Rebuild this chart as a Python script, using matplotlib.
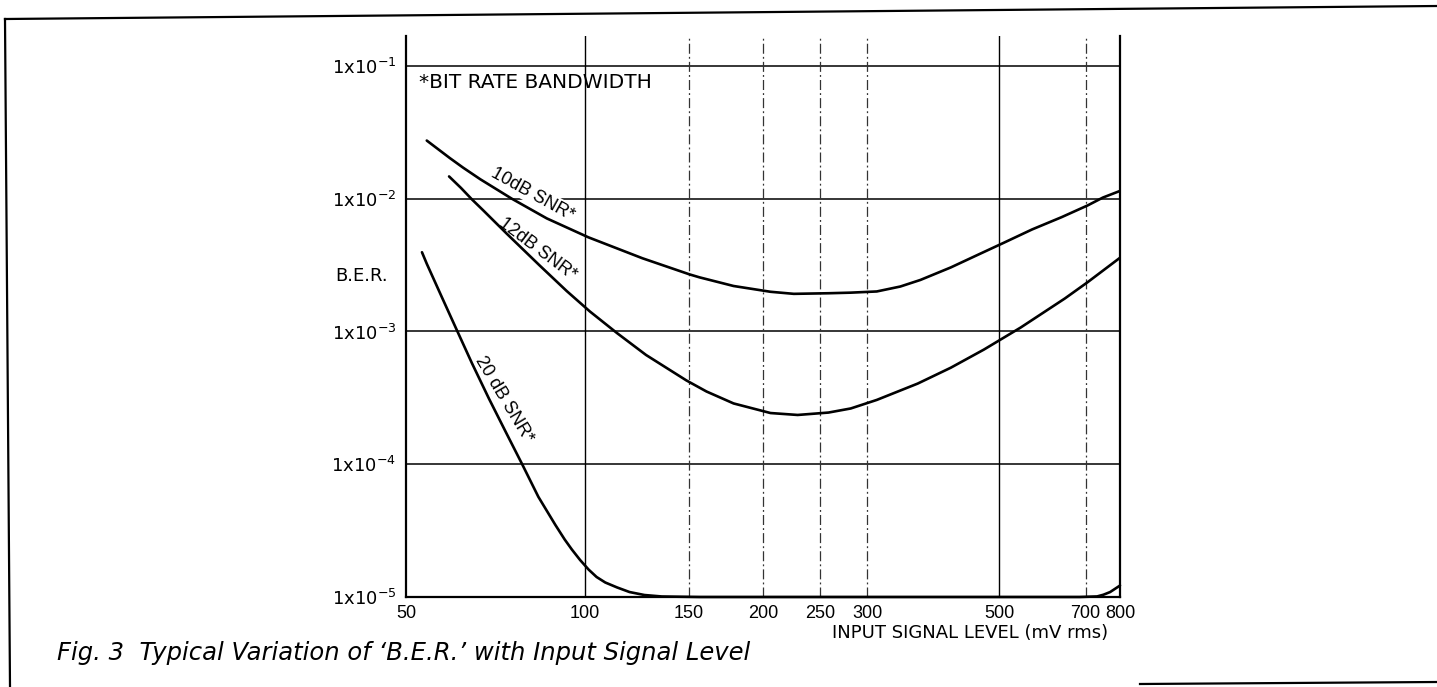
import matplotlib
matplotlib.use("Agg")
import matplotlib.pyplot as plt
from matplotlib.lines import Line2D

# ---------------- data ----------------
x_ticks = [50, 100, 150, 200, 250, 300, 500, 700, 800]
x_ticklabels = ["50", "100", "150", "200", "250", "300", "500", "700", "800"]
y_ticks = [1e-1, 1e-2, 1e-3, 1e-4, 1e-5]
y_ticklabels = [r"$\mathregular{1x10^{-1}}$", r"$\mathregular{1x10^{-2}}$",
                r"$\mathregular{1x10^{-3}}$", r"$\mathregular{1x10^{-4}}$",
                r"$\mathregular{1x10^{-5}}$"]

snr10_x = [54.2, 59.3, 62.4, 66.7, 75.4, 86.4, 101.5, 125.2, 150.4, 156.3, 178.4, 205.9, 225.4,
           257.9, 281.2, 311.1, 340.9, 368.6, 414.6, 464, 509.7, 568.7, 637.5, 705.5, 748.7, 800]
snr10_y = [0.0274, 0.0202, 0.01714, 0.01402, 0.0100, 0.0071, 0.00512, 0.00356, 0.00269,
           0.002556, 0.0022, 0.00199, 0.00192, 0.00194, 0.00196, 0.002001, 0.00218, 0.002444,
           0.003034, 0.003836, 0.004661, 0.005867, 0.007254, 0.008896, 0.0102, 0.01144]

snr12_x = [59.1, 61.9, 64.6, 67.5, 74.0, 84.0, 93.3, 102.1, 113.4, 127.0, 148.5, 160.6, 178.4,
           205.9, 228.8, 257.9, 281.2, 311.1, 364.7, 414.6, 471.5, 543.9, 645.6, 705.5, 800]
snr12_y = [0.01471, 0.01205, 0.00987, 0.00816, 0.00543, 0.003143, 0.002018, 0.001415,
           0.000974, 0.000665, 0.000428, 0.000353, 0.000287, 0.000243, 0.000235, 0.000245,
           0.000263, 0.000305, 0.000405, 0.000533, 0.00073, 0.00107, 0.00177, 0.00235, 0.00359]

snr20_x = [53.2, 54.2, 57.5, 61.0, 64.6, 69.0, 73.75, 78.5, 83.6, 89.3, 92.6, 95.2, 98.3,
           101.6, 104.8, 108.4, 113.5, 119.1, 126.2, 135.0, 156.4, 684, 732, 750, 770, 800]
snr20_y = [0.00395, 0.003236, 0.001803, 0.001009, 0.000576, 0.000312, 0.000173, 0.0001,
           5.68e-5, 3.49e-5, 2.71e-5, 2.28e-5, 1.90e-5, 1.61e-5, 1.415e-5, 1.286e-5, 1.18e-5,
           1.09e-5, 1.035e-5, 1.009e-5, 1.0e-5, 1.0e-5, 1.01e-5, 1.04e-5, 1.09e-5, 1.22e-5]

solid_vgrid = [100, 500]
dashed_vgrid = [150, 200, 250, 300, 700]
hgrid = [1e-1, 1e-2, 1e-3, 1e-4]

# ---------------- style ----------------
plt.rcParams['font.family'] = ['DejaVu Sans']
plt.rcParams['mathtext.fontset'] = 'custom'
plt.rcParams['mathtext.rm'] = 'Liberation Sans'
plt.rcParams['mathtext.it'] = 'Liberation Sans:italic'
plt.rcParams['mathtext.bf'] = 'Liberation Sans:bold'

W, H = 1437, 687
fig = plt.figure(figsize=(W / 100, H / 100), dpi=100)
fig.patch.set_facecolor('white')

ax_left, ax_right, ax_top, ax_bot = 406, 1120, 36, 597
ax = fig.add_axes([ax_left / W, 1 - ax_bot / H, (ax_right - ax_left) / W, (ax_bot - ax_top) / H])

ax.set_xscale('log')
ax.set_yscale('log')
ax.set_xlim(50, 800)
ax.set_ylim(1e-5, 0.168)

# grid lines
for yv in hgrid:
    ax.axhline(yv, color='black', lw=1.1, zorder=1)
for xv in solid_vgrid:
    ax.axvline(xv, color='black', lw=1.0, zorder=1)
for xv in dashed_vgrid:
    ax.axvline(xv, color='#333333', lw=0.9, dashes=(8, 2.5, 1.5, 2.5), zorder=1)

# curves
kw = dict(color='black', lw=1.9, zorder=4, solid_capstyle='round', solid_joinstyle='round')
ax.plot(snr10_x, snr10_y, **kw)
ax.plot(snr12_x, snr12_y, **kw)
ax.plot(snr20_x, snr20_y, clip_on=False, **kw)

# spines
for s in ['left', 'right', 'bottom']:
    ax.spines[s].set_linewidth(1.6)
    ax.spines[s].set_color('black')
ax.spines['top'].set_visible(False)

ax.xaxis.set_minor_locator(matplotlib.ticker.NullLocator())
ax.yaxis.set_minor_locator(matplotlib.ticker.NullLocator())
ax.set_xticks(x_ticks)
ax.set_xticklabels(x_ticklabels)
ax.set_yticks(y_ticks)
ax.set_yticklabels(y_ticklabels)
ax.tick_params(axis='both', length=0, colors='black')
ax.tick_params(axis='x', pad=6, labelsize=13)
ax.tick_params(axis='y', pad=7, labelsize=13)
for lab in ax.get_xticklabels():
    lab.set_fontfamily('Liberation Sans')

ax.set_xlabel("INPUT SIGNAL LEVEL (mV rms)", fontsize=13, ha='right', va='center')
ax.xaxis.set_label_coords((1108 - ax_left) / (ax_right - ax_left), (ax_bot - 633) / (ax_bot - ax_top))
ax.set_ylabel("B.E.R.", fontsize=13, rotation=0, ha='center', va='center')
ax.yaxis.set_label_coords((362 - ax_left) / (ax_right - ax_left), (ax_bot - 276) / (ax_bot - ax_top))

# annotations
ax.text(52.6, 0.0745, "*BIT RATE BANDWIDTH", fontsize=14.5, ha='left', va='center', zorder=5)
lab_kw = dict(fontsize=13, family='Liberation Sans', rotation_mode='anchor',
              ha='center', va='center', zorder=3)
ax.text(81.9, 0.0108, "10dB SNR*", rotation=-29,
        bbox=dict(facecolor='white', edgecolor='none', pad=1), **lab_kw)
ax.text(83.2, 0.00413, "12dB SNR*", rotation=-37, **lab_kw)
ax.text(73.2, 0.000308, "20 dB SNR*", rotation=-59, **lab_kw)

# caption
fig.text(57 / W, 1 - 653 / H, "Fig. 3  Typical Variation of \u2018B.E.R.\u2019 with Input Signal Level",
         fontsize=17.5, style='italic', ha='left', va='center')

# page frame
def fline(p0, p1, lw=1.6):
    fig.add_artist(Line2D([p0[0] / W, p1[0] / W], [1 - p0[1] / H, 1 - p1[1] / H],
                          transform=fig.transFigure, color='black', lw=lw))

fline((5, 19), (1437, 6))
fline((5, 19), (10, 687))
fline((1140, 684), (1437, 682))

fig.savefig("out.png", dpi=100, facecolor='white')
